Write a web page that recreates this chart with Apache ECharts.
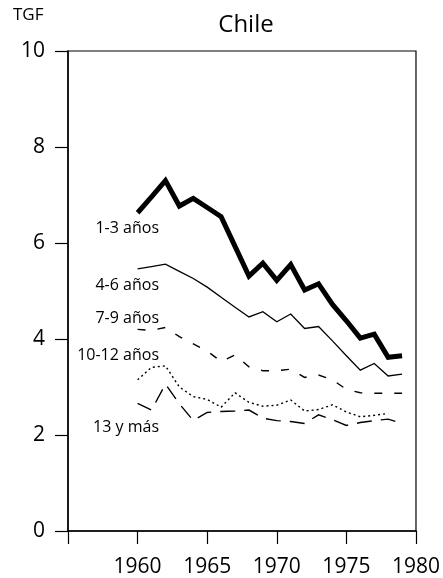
<!DOCTYPE html>
<html>
<head>
<meta charset="utf-8">
<script src="https://cdn.jsdelivr.net/npm/echarts@6/dist/echarts.min.js"></script>
<style>
  html, body { margin: 0; padding: 0; background: #fff; }
  #main { width: 443px; height: 578px; }
</style>
</head>
<body>
<div id="main"></div>
<script>
// years 1960..1979, TGF by age group
const years = [1960, 1961, 1962, 1963, 1964, 1965, 1966, 1967, 1968, 1969,
               1970, 1971, 1972, 1973, 1974, 1975, 1976, 1977, 1978, 1979]
const g1_3 = [6.63, 6.96, 7.30, 6.77, 6.93, 6.74, 6.55, 5.93, 5.31, 5.58,
              5.22, 5.55, 5.02, 5.15, 4.72, 4.38, 4.02, 4.10, 3.62, 3.65]
const g4_6 = [5.46, 5.51, 5.56, 5.41, 5.26, 5.08, 4.87, 4.66, 4.46, 4.57,
              4.36, 4.52, 4.22, 4.26, 3.96, 3.65, 3.35, 3.49, 3.23, 3.27]
const g7_9 = [4.20, 4.18, 4.24, 4.05, 3.90, 3.75, 3.53, 3.67, 3.42, 3.34,
              3.34, 3.37, 3.20, 3.25, 3.15, 2.95, 2.88, 2.87, 2.87, 2.87]
const g10_12 = [3.15, 3.41, 3.44, 3.00, 2.80, 2.74, 2.58, 2.88, 2.68, 2.60,
                2.62, 2.73, 2.50, 2.53, 2.63, 2.48, 2.38, 2.41, 2.45]
const g13 = [2.66, 2.52, 3.06, 2.65, 2.30, 2.47, 2.49, 2.50, 2.52, 2.35,
             2.30, 2.28, 2.24, 2.42, 2.32, 2.20, 2.26, 2.30, 2.33, 2.24]
const xTicks = [1955, 1960, 1965, 1970, 1975, 1980]
const yTicks = [0, 2, 4, 6, 8, 10]

const font = "'Open Sans', 'DejaVu Sans', sans-serif"
const pair = (arr) => arr.map((v, i) => [years[i], v])

const chartDom = document.getElementById("main")
const myChart = echarts.init(chartDom)

const lineSeries = (name, data, width, type) => ({
  name: name,
  type: "line",
  data: pair(data),
  symbol: "none",
  silent: true,
  lineStyle: { color: "#000", width: width, type: type, cap: "butt", join: "miter" }
})

// labels for the curves, placed at left of the lines
const seriesLabel = (text, top) => ({
  type: "text",
  right: 443 - 159,
  top: top,
  style: { text: text, font: "16px " + font, fill: "#000" }
})

const option = {
  animation: false,
  backgroundColor: "#fff",
  textStyle: { fontFamily: font, color: "#000" },
  title: {
    text: "Chile",
    left: 241,
    top: 8,
    textAlign: "center",
    textStyle: { fontFamily: font, fontSize: 24, fontWeight: "normal", color: "#000" }
  },
  grid: {
    left: 68, right: 26, top: 51, bottom: 47,
    show: true, borderColor: "#000", borderWidth: 1.2
  },
  xAxis: {
    type: "value",
    min: xTicks[0],
    max: xTicks[xTicks.length - 1],
    interval: 5,
    axisLine: { lineStyle: { color: "#000", width: 1.5 } },
    axisTick: { length: 13, lineStyle: { color: "#000", width: 1.2 } },
    axisLabel: {
      margin: 26,
      fontSize: 21,
      fontFamily: font,
      color: "#000",
      formatter: (v) => (v === xTicks[0] ? "" : String(v))
    },
    splitLine: { show: false }
  },
  yAxis: {
    type: "value",
    min: yTicks[0],
    max: yTicks[yTicks.length - 1],
    interval: 2,
    axisLine: { lineStyle: { color: "#000", width: 1.5 } },
    axisTick: { length: 13, lineStyle: { color: "#000", width: 1.2 } },
    axisLabel: { margin: 23, fontSize: 21, fontFamily: font, color: "#000" },
    splitLine: { show: false }
  },
  series: [
    lineSeries("1-3 años", g1_3, 5, "solid"),
    lineSeries("4-6 años", g4_6, 1.3, "solid"),
    lineSeries("7-9 años", g7_9, 1.4, [8, 12]),
    lineSeries("10-12 años", g10_12, 1.4, [2, 3]),
    lineSeries("13 y más", g13, 1.4, [15, 9])
  ],
  graphic: [
    { type: "text", left: 13, top: 7, style: { text: "TGF", font: "17px " + font, fill: "#000" } },
    seriesLabel("1-3 años", 220),
    seriesLabel("4-6 años", 277),
    seriesLabel("7-9 años", 310),
    seriesLabel("10-12 años", 347),
    seriesLabel("13 y más", 419)
  ]
}

option && myChart.setOption(option)
</script>
</body>
</html>
